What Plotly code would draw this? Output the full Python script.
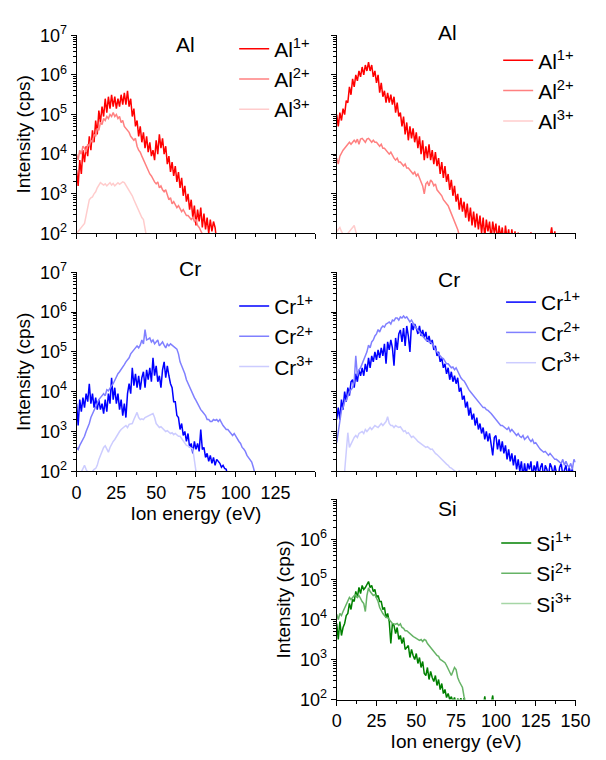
import plotly.graph_objects as go

# ---------------- data (log10 of intensity in cps, 1 eV steps from 0 eV) ----------------
energy_ev = list(range(0, 151))

al1_a = [3.6, 3.2, 3.85, 3.5, 4.1, 3.8, 4.2, 3.95, 4.45, 4.1,
         4.6, 4.3, 4.85, 4.5, 5.1, 4.8, 5.2, 4.95, 5.4, 5.05,
         5.45, 5.15, 5.5, 5.2, 5.45, 5.15, 5.4, 5.2, 5.5, 5.25,
         5.55, 5.25, 5.6, 5.2, 5.4, 4.95, 5.15, 4.7, 4.85, 4.45,
         4.7, 4.3, 4.55, 4.15, 4.45, 4.05, 4.3, 3.95, 4.1, 3.85,
         4.35, 4.0, 4.5, 4.15, 4.4, 4.0, 4.2, 3.75, 3.95, 3.55,
         3.8, 3.45, 3.7, 3.3, 3.55, 3.15, 3.4, 2.95, 3.2, 2.8,
         3.0, 2.6, 2.85, 2.4, 2.7, 2.2, 2.6, 2.3, 2.65, 2.15,
         2.5, 2.1, 2.4, 2.0, 2.35, 2.05, 2.3, 2.15, 1.8]
al2_a = [4.0, 3.85, 4.1, 4.0, 4.2, 4.15, 4.05, 4.25, 4.2, 4.35, 4.3, 4.5, 4.45, 4.65, 4.6, 4.8, 4.75, 4.9, 4.85, 4.95,
         4.9, 5.0, 4.95, 5.05, 4.95, 5.0, 4.9, 4.95, 4.8, 4.85, 4.7, 4.65, 4.6, 4.55, 4.45, 4.4, 4.35, 4.4, 4.2, 4.1,
         4.05, 3.95, 3.85, 3.8, 3.7, 3.6, 3.5, 3.45, 3.35, 3.3, 3.25, 3.3, 3.15, 3.2, 3.1, 3.05, 3.1, 2.95, 2.85, 2.9,
         2.75, 2.8, 2.7, 2.65, 2.7, 2.6, 2.55, 2.6, 2.5, 2.45, 2.45, 2.4, 2.35, 2.4, 2.3, 2.35, 2.2, 2.15, 2.05, 1.95, 1.9]
al3_a = [2.0, 2.05, 2.1, 2.15, 2.2, 2.25, 2.45, 2.7, 2.85, 2.9, 2.92, 3.0, 3.05, 3.15, 3.2, 3.28, 3.25, 3.22, 3.25, 3.2,
         3.24, 3.28, 3.22, 3.26, 3.2, 3.25, 3.28, 3.24, 3.27, 3.3, 3.28, 3.22, 3.15, 3.1, 3.02, 2.95, 2.85, 2.75, 2.7, 2.6,
         2.5, 2.4, 2.35, 2.15, 1.9]

al1_b = [5.0, 4.7, 5.05, 4.85, 5.15, 5.0, 5.35, 5.3, 5.7, 5.5,
         5.9, 5.7, 6.0, 5.85, 6.1, 5.95, 6.2, 6.0, 6.25, 6.1,
         6.32, 6.1, 6.25, 5.95, 6.1, 5.8, 6.0, 5.55, 5.8, 5.45,
         5.6, 5.3, 5.55, 5.3, 5.5, 5.25, 5.45, 5.05, 5.3, 4.95,
         5.05, 4.7, 4.95, 4.5, 4.8, 4.35, 4.7, 4.4, 4.65, 4.3,
         4.55, 4.15, 4.45, 4.0, 4.35, 3.85, 4.2, 3.9, 4.25, 3.85,
         4.1, 3.75, 4.05, 3.7, 3.9, 3.5, 3.8, 3.4, 3.7, 3.3,
         3.5, 3.1, 3.35, 2.95, 3.2, 2.8, 3.0, 2.6, 2.9, 2.55,
         2.8, 2.4, 2.75, 2.3, 2.65, 2.2, 2.55, 2.15, 2.5, 2.1,
         2.45, 2.0, 2.4, 1.9, 2.35, 2.05, 2.3, 1.85, 2.3, 2.0,
         2.25, 1.8, 2.2, 1.9, 2.15, 1.7, 2.2, 1.85, 2.1, 1.7,
         2.1, 1.75, 2.05, 1.6, 2.02, 1.6, 1.7, 1.5, 1.6, 1.5,
         1.6, 1.5, 2.03, 1.5, 1.6, 1.5, 1.6, 1.5, 1.6, 1.5,
         1.6, 1.5, 1.6, 1.7, 1.9, 2.15, 1.8, 2.05, 1.7, 1.6,
         1.5, 1.6, 1.5, 1.6, 1.5, 1.6, 1.5, 1.5, 1.6, 1.5, 1.5]
al2_b = [3.9, 3.75, 3.95, 4.05, 4.1, 4.15, 4.2, 4.25, 4.3, 4.25, 4.3, 4.35, 4.3, 4.38, 4.25, 4.38, 4.4, 4.35, 4.3, 4.38,
         4.4, 4.35, 4.3, 4.35, 4.3, 4.3, 4.25, 4.2, 4.25, 4.15, 4.15, 4.1, 4.05, 4.0, 4.05, 3.95, 3.9, 3.85, 3.9, 3.8,
         3.8, 3.75, 3.7, 3.75, 3.65, 3.65, 3.6, 3.55, 3.5, 3.55, 3.45, 3.5, 3.4, 3.35, 3.2, 3.0, 3.25, 3.3, 3.2, 3.35,
         3.3, 3.2, 3.25, 3.1, 3.05, 3.0, 2.95, 2.85, 2.8, 2.75, 2.7, 2.6, 2.5, 2.45, 2.35, 2.25, 2.1, 1.95, 1.85]
al3_b = [2.05, 2.1, 2.15, 2.05, 1.95, 1.9, 1.95, 2.0, 2.05, 2.1, 2.15, 2.2, 2.05, 1.9, 1.8]

cr1_a = [3.7, 3.15, 3.8, 3.5, 3.85, 3.6, 3.95, 3.75, 4.2, 3.7, 3.95, 3.6, 3.85, 3.55, 3.8, 3.55, 3.7, 3.45, 3.8, 3.5,
         3.95, 3.7, 4.35, 3.8, 4.1, 3.7, 3.95, 3.55, 3.8, 3.4, 3.7, 3.35, 3.95, 4.2, 3.95, 4.6, 4.15, 4.45, 4.1, 4.4,
         4.05, 4.35, 4.5, 4.1, 4.55, 4.3, 4.6, 4.25, 4.85, 4.4, 4.65, 4.25, 4.4, 4.1, 4.55, 4.75, 4.35, 4.65, 4.4, 4.2,
         4.1, 3.75, 3.75, 3.4, 3.35, 3.05, 3.2, 2.9, 3.0, 2.75, 2.95, 2.6, 2.7, 2.45, 2.75, 2.55, 2.7, 2.5, 3.05, 2.55,
         2.6, 2.35, 2.45, 2.25, 2.4, 2.2, 2.35, 2.15, 2.3, 2.25, 2.2, 2.1, 2.15, 2.07, 2.05, 1.85]
cr2_a = [2.6, 2.55, 2.65, 2.72, 2.8, 2.88, 3.0, 3.1, 3.2, 3.35, 3.45, 3.55, 3.6, 3.7, 3.8, 3.85, 3.9, 3.95, 3.9, 4.05,
         4.02, 4.1, 4.15, 4.2, 4.3, 4.35, 4.45, 4.5, 4.55, 4.6, 4.68, 4.75, 4.8, 4.85, 4.95, 5.0, 5.05, 5.1, 5.15, 5.1,
         5.17, 5.3, 5.2, 5.56, 5.3, 5.32, 5.35, 5.25, 5.3, 5.2, 5.25, 5.3, 5.15, 5.2, 5.25, 5.17, 5.1, 5.2, 5.15, 5.2,
         5.17, 5.12, 5.1, 5.07, 4.95, 4.75, 4.65, 4.55, 4.45, 4.3, 4.2, 4.1, 4.0, 3.9, 3.85, 3.78, 3.7, 3.6, 3.55, 3.5,
         3.45, 3.4, 3.3, 3.3, 3.25, 3.25, 3.3, 3.28, 3.3, 3.25, 3.3, 3.2, 3.15, 3.1, 3.05, 3.05, 3.0, 2.95, 2.9, 2.95,
         2.88, 2.8, 2.75, 2.7, 2.6, 2.56, 2.5, 2.4, 2.35, 2.3, 2.23, 2.1, 1.95]
cr3_a = [1.5, 1.8, 1.9, 2.0, 2.05, 2.15, 2.05, 1.95, 1.9, 1.95, 2.0, 2.05, 2.07, 2.15, 2.3, 2.4, 2.5, 2.6, 2.64, 2.55,
         2.48, 2.6, 2.7, 2.75, 2.8, 2.88, 2.95, 3.0, 3.05, 3.1, 3.12, 3.15, 3.1, 3.18, 3.2, 3.2, 3.3, 3.38, 3.48, 3.35,
         3.3, 3.32, 3.3, 3.35, 3.37, 3.37, 3.4, 3.42, 3.45, 3.35, 3.2, 3.15, 3.1, 3.12, 3.08, 3.05, 3.0, 3.02, 2.98, 2.95,
         2.97, 2.92, 2.95, 2.9, 2.88, 2.88, 2.82, 2.75, 2.7, 2.65, 2.64, 2.6, 2.58, 2.56, 2.3, 2.0]

cr1_b = [3.3, 3.6, 3.3, 3.8, 3.55, 4.0, 3.75, 4.1, 3.9, 4.25,
         4.3, 4.1, 4.45, 4.25, 4.55, 4.4, 4.6, 4.4, 4.7, 4.5,
         4.85, 4.6, 4.9, 4.75, 5.0, 4.8, 5.05, 4.85, 5.1, 4.9,
         5.2, 4.7, 5.25, 5.05, 5.3, 5.1, 4.65, 5.35, 5.05, 5.45,
         5.55, 5.25, 5.6, 5.15, 5.65, 5.4, 5.0, 5.72, 5.55, 5.7,
         5.6, 5.45, 5.65, 5.4, 5.55, 5.35, 5.5, 5.25, 5.4, 5.2,
         5.3, 5.05, 5.15, 4.9, 5.0, 4.75, 4.85, 4.6, 4.7, 4.45,
         4.6, 4.3, 4.5, 4.25, 4.4, 4.2, 4.35, 4.0, 4.1, 3.8,
         3.9, 3.6, 3.75, 3.4, 3.6, 3.3, 3.45, 3.15, 3.35, 3.05,
         3.2, 2.95, 3.1, 2.8, 3.0, 2.75, 2.95, 2.6, 2.4, 2.85,
         2.9, 2.55, 2.8, 2.5, 2.75, 2.45, 2.65, 2.3, 2.55, 2.25,
         2.45, 2.15, 2.4, 2.05, 2.3, 2.0, 2.25, 1.85, 2.2, 1.9,
         2.2, 2.05, 2.25, 1.85, 2.15, 2.0, 2.25, 1.9, 2.1, 2.2,
         1.8, 2.15, 2.05, 1.85, 2.2, 2.1, 1.9, 2.15, 2.0, 1.8,
         2.1, 2.2, 1.9, 2.05, 2.15, 1.85, 2.1, 1.95, 2.05, 1.8, 1.9]
cr2_b = [2.72, 3.0, 3.3, 3.53, 3.6, 3.75, 3.78, 3.9, 4.0, 4.05, 4.1, 4.25, 4.9, 4.4, 4.55, 4.6, 4.7, 4.8, 4.9, 5.0,
         5.17, 5.1, 5.25, 5.3, 5.4, 5.45, 5.56, 5.5, 5.6, 5.65, 5.62, 5.7, 5.72, 5.75, 5.7, 5.8, 5.78, 5.85, 5.85, 5.8,
         5.88, 5.85, 5.9, 5.85, 5.88, 5.8, 5.75, 5.8, 5.7, 5.65, 5.6, 5.56, 5.5, 5.45, 5.4, 5.35, 5.3, 5.3, 5.25, 5.25,
         5.2, 5.15, 5.05, 5.0, 4.95, 4.9, 4.85, 4.83, 4.75, 4.7, 4.7, 4.65, 4.6, 4.62, 4.55, 4.6, 4.5, 4.4, 4.35, 4.3,
         4.27, 4.2, 4.1, 4.05, 4.0, 3.95, 3.9, 3.85, 3.8, 3.75, 3.7, 3.65, 3.6, 3.6, 3.55, 3.53, 3.5, 3.45, 3.4, 3.35,
         3.3, 3.25, 3.2, 3.15, 3.15, 3.12, 3.1, 3.05, 3.1, 3.0, 3.05, 3.0, 2.95, 2.9, 2.95, 2.88, 2.85, 2.9, 2.8, 2.85,
         2.88, 2.8, 2.75, 2.8, 2.7, 2.72, 2.65, 2.6, 2.55, 2.5, 2.48, 2.5, 2.45, 2.4, 2.45, 2.4, 2.35, 2.3, 2.3, 2.25,
         2.23, 2.2, 2.3, 2.15, 2.25, 2.15, 2.1, 2.2, 2.05, 2.3, 2.23]
cr3_b = [1.6, 1.7, 1.8, 1.9, 1.95, 2.0, 2.5, 2.97, 2.6, 2.7, 2.8, 2.85, 2.9, 2.85, 2.95, 2.97, 3.0, 2.95, 3.05, 3.0,
         3.05, 3.1, 3.05, 3.1, 3.15, 3.12, 3.1, 3.15, 3.2, 3.15, 3.2, 3.25, 3.37, 3.2, 3.15, 3.15, 3.1, 3.15, 3.12, 3.1,
         3.12, 3.05, 3.0, 3.02, 2.95, 2.97, 2.9, 2.85, 2.88, 2.85, 2.8, 2.75, 2.72, 2.7, 2.68, 2.64, 2.6, 2.62, 2.58, 2.55,
         2.56, 2.5, 2.45, 2.42, 2.38, 2.32, 2.3, 2.25, 2.22, 2.18, 2.15, 2.1, 2.08, 2.05, 2.02, 2.0, 1.95, 2.02, 1.9, 1.8, 1.7]

si1 = [3.9, 3.5, 3.95, 3.6, 3.8, 3.9, 4.1, 4.15, 4.4, 4.25, 4.5, 4.45, 4.7, 4.55, 4.8, 4.65, 4.85, 4.75, 4.8, 4.88,
       4.95, 4.8, 4.85, 4.7, 4.75, 4.55, 4.6, 4.45, 4.45, 4.25, 4.3, 4.05, 4.15, 3.95, 3.4, 3.9, 3.85, 3.65, 3.8, 3.5,
       3.6, 3.4, 3.55, 3.25, 3.3, 3.35, 3.05, 3.25, 3.1, 3.0, 3.15, 2.9, 3.05, 2.8, 2.95, 2.65, 2.6, 2.8, 2.5, 2.7,
       2.55, 2.45, 2.6, 2.35, 2.5, 2.25, 2.4, 2.15, 2.25, 2.05, 2.15, 2.0, 2.07, 1.95, 2.05, 1.9, 2.02, 1.95, 2.03, 1.9,
       2.03, 1.8, 1.7, 1.6, 1.6, 1.6, 1.7, 1.6, 1.7, 1.8, 1.9, 1.95, 1.8, 2.08, 1.8, 1.7, 1.8, 1.9, 2.1, 1.7]
si2 = [4.13, 4.0, 4.15, 4.1, 4.2, 4.3, 4.35, 4.45, 4.55, 4.5, 4.55, 4.6, 4.62, 4.55, 4.6, 4.5, 4.45, 4.4, 4.2, 4.6,
       4.79, 4.7, 4.65, 4.6, 4.62, 4.55, 4.45, 4.3, 4.2, 4.15, 4.1, 4.05, 4.05, 4.0, 3.95, 3.9, 3.89, 3.88, 3.9, 3.85,
       3.89, 3.8, 3.78, 3.72, 3.72, 3.68, 3.65, 3.6, 3.58, 3.55, 3.52, 3.5, 3.48, 3.5, 3.45, 3.5, 3.48, 3.4, 3.35, 3.3,
       3.24, 3.2, 3.15, 3.1, 3.08, 3.0, 2.98, 2.95, 2.92, 2.85, 2.75, 2.65, 2.6, 2.7, 2.8, 2.75, 2.55, 2.45, 2.36, 2.3,
       2.07, 1.9, 1.8]
si3 = []   # no visible Si3+ signal above 10^2 cps

ion_labels = ["1+", "2+", "3+"]
x_ticks = [0, 25, 50, 75, 100, 125, 150]
y_exponents = [2, 3, 4, 5, 6, 7]

# ---------------- layout helpers ----------------
W, H = 606, 760
FONT = "Liberation Sans, Arial, sans-serif"


def xdom(a, b):
    return [a / W, b / W]


def ydom(top, bottom):
    return [1 - bottom / H, 1 - top / H]


def cps(logs):
    return [10 ** v for v in logs]


panels = [
    # element, series, colours, x domain px, y domain px, legend name
    ("Al", [al1_a, al2_a, al3_a], ["#ff0000", "#ff8080", "#ffcccc"], (74, 321), (24, 228), "legend"),
    ("Al", [al1_b, al2_b, al3_b], ["#ff0000", "#ff8080", "#ffcccc"], (343, 590), (24, 228), "legend2"),
    ("Cr", [cr1_a, cr2_a, cr3_a], ["#0000ff", "#8080ff", "#ccccff"], (74, 321), (268, 473), "legend3"),
    ("Cr", [cr1_b, cr2_b, cr3_b], ["#0000ff", "#8080ff", "#ccccff"], (343, 590), (268, 473), "legend4"),
    ("Si", [si1, si2, si3], ["#008000", "#66b366", "#a6d6a6"], (343, 590), (502, 708), "legend5"),
]

fig = go.Figure()
for i, (el, series, colors, xd, yd, leg) in enumerate(panels):
    n = "" if i == 0 else str(i + 1)
    for s, c, lab in zip(series, colors, ion_labels):
        xs = energy_ev[:len(s)] if s else [None]
        ys = cps(s) if s else [None]
        fig.add_trace(go.Scatter(
            x=xs, y=ys, mode="lines",
            line=dict(color=c, width=1.5),
            name=f"{el}<sup>{lab}</sup>",
            xaxis="x" + n, yaxis="y" + n, legend=leg,
        ))

minor_y = [k * 10 ** d for d in range(2, 7) for k in range(2, 10)]
minor_x = [12.5, 37.5, 62.5, 87.5, 112.5, 137.5]

axis_common = dict(showline=True, linecolor="black", linewidth=1, showgrid=False, zeroline=False,
                   ticks="outside", tickcolor="black", tickfont=dict(family=FONT, size=18, color="black"))

layout = dict(
    width=W, height=H, margin=dict(l=0, r=0, t=0, b=0),
    paper_bgcolor="white", plot_bgcolor="white",
    font=dict(family=FONT, color="black"),
    showlegend=True,
)

annotations = []
titles_pos = [(187, 33), (458, 21), (191, 264), (459, 275), (458, 511)]
legend_pos = [(237, 17), (510, 29), (237, 282), (513, 278), (508, 526)]

for i, (el, series, colors, xd, yd, leg) in enumerate(panels):
    n = "" if i == 0 else str(i + 1)
    show_xlabels = i in (2, 4)
    show_ylabels = i in (0, 2, 4)
    xt = [str(v) for v in x_ticks]
    if i == 2:
        xt[-1] = ""
    yt = [f"10<sup>{e}</sup>" for e in y_exponents]
    if i == 4:
        yt[-1] = ""
    layout["xaxis" + n] = dict(
        axis_common, domain=xdom(*xd), anchor="y" + n, range=[0, 150],
        tickmode="array", tickvals=x_ticks, ticktext=xt, showticklabels=show_xlabels, ticklen=5,
        minor=dict(tickmode="array", tickvals=minor_x, ticks="outside", ticklen=3, tickcolor="black"),
        title=dict(text="Ion energy (eV)" if show_xlabels else "",
                   font=dict(family=FONT, size=19, color="black"), standoff=4),
    )
    layout["yaxis" + n] = dict(
        axis_common, domain=ydom(*yd), anchor="x" + n, type="log", range=[2, 7],
        tickmode="array", tickvals=[10 ** e for e in y_exponents], ticktext=yt,
        showticklabels=show_ylabels, ticklen=5,
        minor=dict(tickmode="array", tickvals=minor_y, ticks="outside", ticklen=2.5, tickcolor="black"),
        title=dict(text="Intensity (cps)" if show_ylabels else "",
                   font=dict(family=FONT, size=19, color="black"), standoff=4),
    )
    tx, ty = titles_pos[i]
    annotations.append(dict(text=el, x=tx / W, y=1 - ty / H, xref="paper", yref="paper",
                            showarrow=False, xanchor="center", yanchor="middle",
                            font=dict(family=FONT, size=21, color="black")))
    lx, ly = legend_pos[i]
    layout[leg] = dict(x=lx / W, y=1 - ly / H, xanchor="left", yanchor="top",
                       bgcolor="rgba(0,0,0,0)", borderwidth=0,
                       font=dict(family=FONT, size=21, color="black"), tracegroupgap=0)

layout["annotations"] = annotations
fig.update_layout(**layout)
fig.write_html("out.html")
